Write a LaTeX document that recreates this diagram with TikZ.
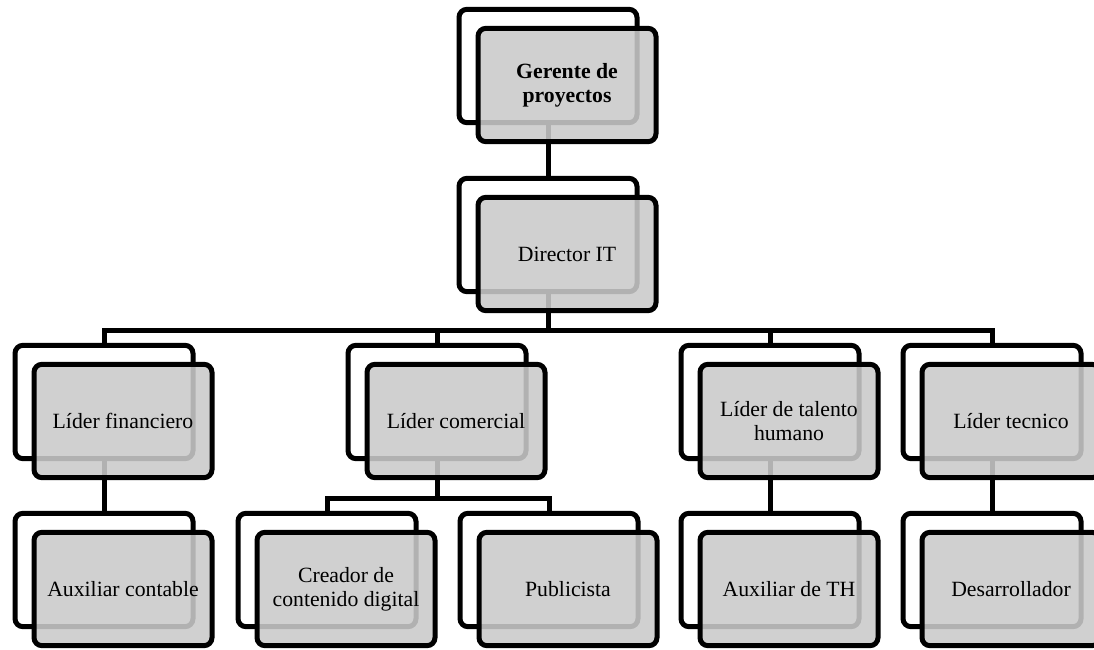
\documentclass[tikz,border=0pt]{standalone}
\usepackage{fontspec}
\setmainfont{Liberation Serif}
\usetikzlibrary{backgrounds}
\definecolor{boxgray}{RGB}{202,202,202}
\tikzset{font={\fontsize{16.3pt}{18pt}\selectfont}}
\tikzset{
  backbox/.style={draw, line width=3.75pt, rounded corners=6pt, fill=white,
    minimum width=133.5pt, minimum height=85pt, inner sep=0pt},
  frontbox/.style={backbox, fill=boxgray, fill opacity=0.88, text opacity=1, align=center},
  link/.style={line width=3.75pt}
}

\begin{document}
\begin{tikzpicture}[x=0.75pt, y=-0.75pt]
      \useasboundingbox (0,0) rectangle (1094,649);
      %boxes: back one, then the gray one on top
      \foreach \n/\x/\y/\t in {gerente/548/66/{\textbf{Gerente de}\\\textbf{proyectos}},
          director/548/235/{Director IT},
          fin/104/402/{Líder financiero},
          com/437/402/{Líder comercial},
          tal/770/402/{Líder de talento\\humano},
          tec/992/402/{Líder tecnico},
          cont/104/570/{Auxiliar contable},
          crea/327/570/{Creador de\\contenido digital},
          pub/549/570/{Publicista},
          th/770/570/{Auxiliar de TH},
          des/992/570/{Desarrollador}}
      {
        \node[backbox] (\n) at (\x,\y) {};
        \node[frontbox] (\n-f) at ([shift={(19,19)}]\n) {\t};
      }
      %links
      \begin{scope}[on background layer]
        \coordinate (bus2) at (548,330);
        \coordinate (bus3) at (437,498);
        \draw[link] (gerente.south) -- (director.north);
        \draw[link] (director.south) -- (bus2);
        \draw[link] (fin.north) |- (bus2) -| (tec.north);
        \draw[link] (com.north) -- (com.north |- bus2);
        \draw[link] (tal.north) -- (tal.north |- bus2);
        \draw[link] (fin.south) -- (cont.north);
        \draw[link] (com.south) -- (bus3);
        \draw[link] (crea.north) |- (bus3) -| (pub.north);
        \draw[link] (tal.south) -- (th.north);
        \draw[link] (tec.south) -- (des.north);
      \end{scope}
\end{tikzpicture}
\end{document}
